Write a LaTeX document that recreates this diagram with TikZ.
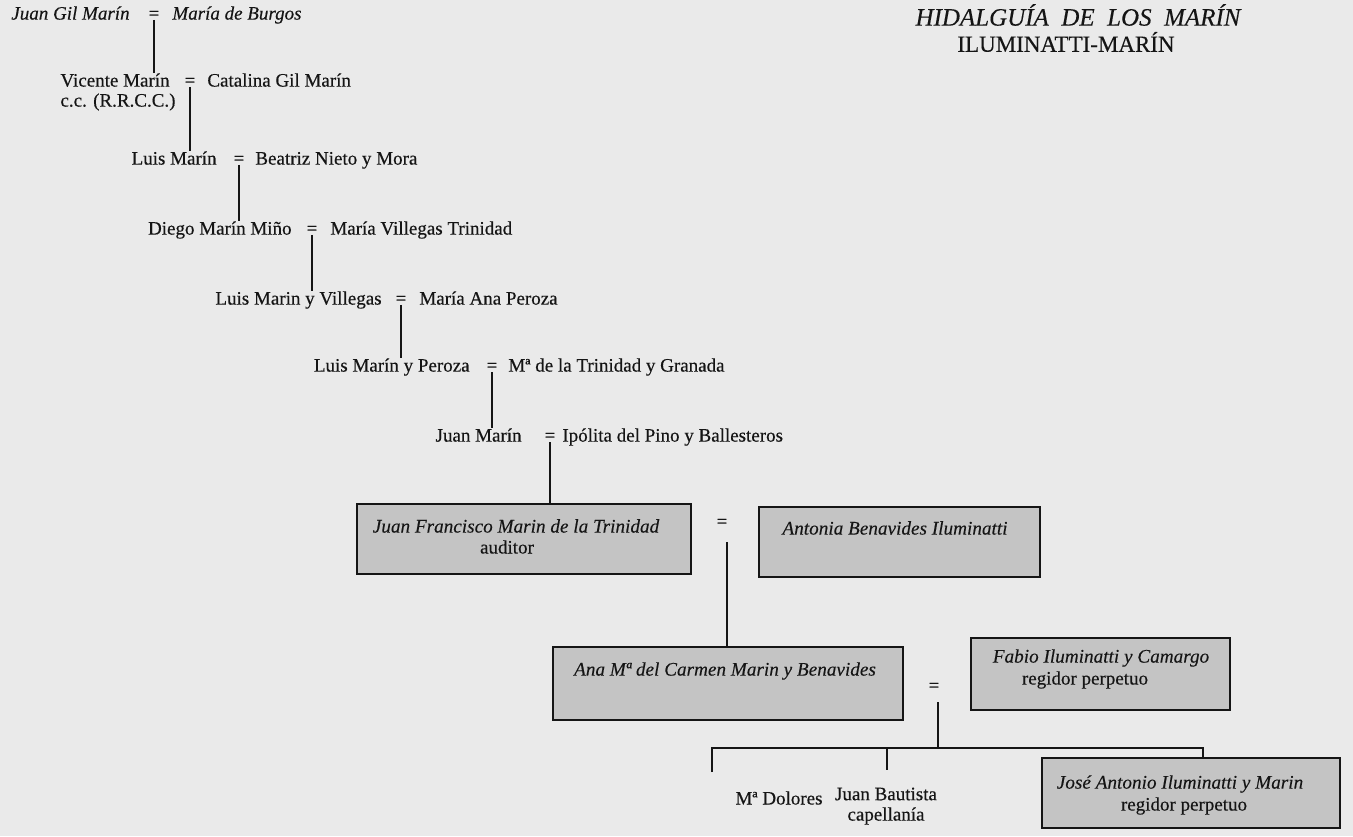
\documentclass[tikz,border=0pt]{standalone}
\usepackage{fontspec}
\setmainfont{Liberation Serif}[FakeBold=0.35]
\newfontfamily\cardfont{Liberation Serif}[FakeBold=0.15]
\definecolor{paper}{HTML}{EAEAEA}
\definecolor{boxfill}{HTML}{C4C4C4}
\definecolor{ink}{HTML}{151515}
\begin{document}
\begin{tikzpicture}[x=0.5pt,y=-0.5pt,
  every node/.style={text=ink},
  person/.style={inner sep=0pt, font=\fontsize{9.5}{11.4}\selectfont},
  iperson/.style={inner sep=0pt, font=\fontsize{9.5}{11.4}\selectfont\itshape},
  boxname/.style={inner sep=0pt, font=\cardfont\fontsize{9.6}{11.5}\selectfont\itshape},
  eqsign/.style={inner sep=0pt, anchor=mid, font=\fontsize{9.5}{11.4}\selectfont},
  conn/.style={draw=ink, line width=1pt},
  famcard/.style={draw=ink, line width=1pt, fill=boxfill, inner sep=0pt},
]
\path[fill=paper] (0,0) rectangle (1353,836);
\useasboundingbox (0,0) rectangle (1353,836);

% title
\node[inner sep=0pt, font=\cardfont\fontsize{12.5}{15}\selectfont\itshape] (t1) at (1078,15) {HIDALGUÍA~~DE~~LOS~~MARÍN};
\node[inner sep=0pt, font=\cardfont\fontsize{11.5}{13}\selectfont] (t2) at (1066,42) {ILUMINATTI-MARÍN};

% boxes
\node[famcard, minimum width=167pt, minimum height=35pt] (boxA) at (524,539) {};
\node[famcard, minimum width=140.5pt, minimum height=35pt] (boxB) at (899.5,542) {};
\node[famcard, minimum width=175pt, minimum height=36.5pt] (ana) at (728,683.5) {};
\node[famcard, minimum width=129.5pt, minimum height=36pt] (fabio) at (1100.5,674) {};
\node[famcard, minimum width=149pt, minimum height=35pt] (jose) at (1191,793) {};

% rows
\node[iperson, anchor=mid east] (r1l) at (130,15) {Juan Gil Marín};
\node[eqsign] (e1) at (154,15) {=};
\node[iperson, anchor=mid west] (r1r) at (172,15) {María de Burgos};

\node[person, anchor=mid east] (r2l) at (170,82) {Vicente Marín};
\node[eqsign] (e2) at (190,82) {=};
\node[person, anchor=mid west] (r2r) at (207,82) {Catalina Gil Marín};
\coordinate (ccy) at (0,102);
\node[person, anchor=mid west] (cc) at (r2l.west |- ccy) {c.c. (R.R.C.C.)};

\node[person, anchor=mid east] (r3l) at (217,160) {Luis Marín};
\node[eqsign] (e3) at (239,160) {=};
\node[person, anchor=mid west] (r3r) at (255,160) {Beatriz Nieto y Mora};

\node[person, anchor=mid east] (r4l) at (292,230) {Diego Marín Miño};
\node[eqsign] (e4) at (312,230) {=};
\node[person, anchor=mid west] (r4r) at (330,230) {María Villegas Trinidad};

\node[person, anchor=mid east] (r5l) at (382,300) {Luis Marin y Villegas};
\node[eqsign] (e5) at (401,300) {=};
\node[person, anchor=mid west] (r5r) at (419,300) {María Ana Peroza};

\node[person, anchor=mid east] (r6l) at (470,367) {Luis Marín y Peroza};
\node[eqsign] (e6) at (492,367) {=};
\node[person, anchor=mid west] (r6r) at (508,367) {Mª de la Trinidad y Granada};

\node[person, anchor=mid east] (r7l) at (522,437) {Juan Marín};
\node[eqsign] (e7) at (550,437) {=};
\node[person, anchor=mid west] (r7r) at (562,437) {Ipólita del Pino y Ballesteros};

% box texts
\node[boxname] (a1) at (516,526) {Juan Francisco Marin de la Trinidad};
\node[person] (a2) at (507,547) {auditor};
\node[boxname] (b1) at (895,528) {Antonia Benavides Iluminatti};
\node[eqsign] (eAB) at (722,523) {=};
\node[boxname] (c1) at (725,671) {Ana Mª del Carmen Marin y Benavides};
\node[boxname] (f1) at (1101,658) {Fabio Iluminatti y Camargo};
\node[person] (f2) at (1085,680) {regidor perpetuo};
\node[eqsign] (eCF) at (934,687) {=};
\node[boxname] (j1) at (1180,784) {José Antonio Iluminatti y Marin};
\node[person] (j2) at (1184,806) {regidor perpetuo};

\node[person] (k1) at (779,798) {Mª Dolores};
\node[person] (k2) at (886,794) {Juan Bautista};
\node[person] (k2b) at (886,816) {capellanía};

% connectors in the ascending line
\draw[conn] (e1.south) -- (e1.south |- r2l.north);
\draw[conn] (e2.south) -- (e2.south |- r3l.north);
\draw[conn] (e3.south) -- (e3.south |- r4l.north);
\draw[conn] (e4.south) -- (e4.south |- r5l.north);
\draw[conn] (e5.south) -- (e5.south |- r6l.north);
\draw[conn] (e6.south) -- (e6.south |- r7l.north);
\draw[conn] (e7.south) -- (e7.south |- boxA.north);

\coordinate (mAB) at (727,542);
\draw[conn] (mAB) -- (mAB |- ana.north);

\coordinate (mCF) at (938,702);
\coordinate (junc) at (938,748);
\coordinate (hl) at (712,748);
\coordinate (hr) at (1203,748);
\coordinate (dl) at (712,772);
\coordinate (jbt) at (887,748);
\coordinate (jbb) at (887,770);
\draw[conn] (mCF) -- (junc);
\draw[conn] (dl) -- (hl) -- (hr) -- (hr |- jose.north);
\draw[conn] (jbt) -- (jbb);
\end{tikzpicture}
\end{document}
